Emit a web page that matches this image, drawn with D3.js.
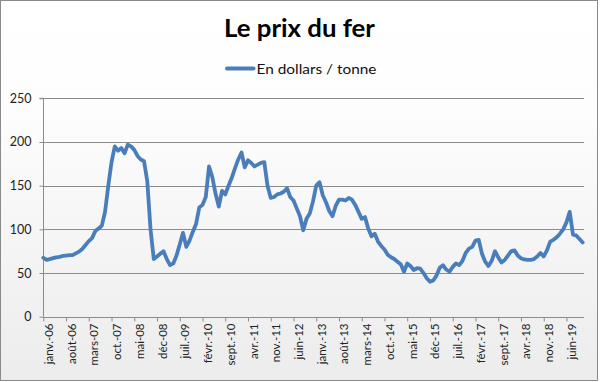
<!DOCTYPE html>
<html><head><meta charset="utf-8">
<script src="https://cdn.jsdelivr.net/npm/d3@7"></script>
<style>html,body{margin:0;padding:0;background:#fff;}svg{display:block;}</style>
</head><body>
<script>
// Monthly iron ore price, Jan 2006 .. Nov 2019 (USD / tonne)
const values = [
 67.5,65,66,67,68,68.5,69.5,70,70.5,70.5,72.5,74.5,
 77.5,82,86.5,90,98,101,104,120,150,177,195,190,
 193,187,197,195,191,184,180,178,155,100,66,69,
 72,75,66,59,61,70,83,96,80,87,97,106,
 125,128,137,172,160,141,126,144,140,150,159,170,
 180,188,171,179,176,172,174,176,177,150,136,137,
 140,141,143,147,137,133,124,115,99,112,118,132,
 150,154,139,131,121,115,127,134,134,133,136,134,
 128,120,112,114,101,92,95,86,81,77,71,68,
 66,63,60,51.5,61,58,53.5,55.5,55,50,44,40,
 41.5,47,56,59,54,51.5,57,61,59,64,73,78,
 80,87,88,72,63,58,64,75,68,62,65,70,
 75,76,70,67,65.5,65,65,66,69,73,69,76,
 86,88,91,95,100,108,120,94,93,89,85
];
const tickLabels = ["janv.-06","août-06","mars-07","oct.-07","mai-08","déc-08","juil.-09","févr.-10",
 "sept.-10","avr.-11","nov.-11","juin-12","janv.-13","août-13","mars-14","oct.-14","mai-15",
 "déc-15","juil.-16","févr.-17","sept.-17","avr.-18","nov.-18","juin-19"];
const tickStep = 7;
const yTicks = [0,50,100,150,200,250];
const title = "Le prix du fer";
const seriesName = "En dollars / tonne";

const W = 600, H = 382;
const svg = d3.select("body").append("svg").attr("width", W).attr("height", H);
const defs = svg.append("defs");
const grad = defs.append("linearGradient").attr("id","bg").attr("x1",0).attr("y1",0).attr("x2",0).attr("y2",1);
grad.append("stop").attr("offset","0%").attr("stop-color","#ffffff");
grad.append("stop").attr("offset","30%").attr("stop-color","#fdfdfd");
grad.append("stop").attr("offset","100%").attr("stop-color","#ececec");

svg.append("rect").attr("x",0.5).attr("y",0.5).attr("width",597).attr("height",380)
  .attr("fill","url(#bg)").attr("stroke","#8a8a8a").attr("stroke-width",1);

const x = d3.scaleLinear().domain([0, values.length - 1]).range([43.3, 582.7]);
const y = d3.scaleLinear().domain([0, 250]).range([316.7, 98.3]);
const xLeft = 43.3, xRight = 584;

// gridlines
svg.append("g").selectAll("line").data(yTicks.filter(d => d > 0)).join("line")
  .attr("x1", xLeft).attr("x2", xRight)
  .attr("y1", d => Math.round(y(d)) + 0.5).attr("y2", d => Math.round(y(d)) + 0.5)
  .attr("stroke", "#8c8c8c").attr("stroke-width", 1);

// y axis
const yAxis = d3.axisLeft(y).tickValues(yTicks).tickSize(4).tickPadding(8);
const gy = svg.append("g").attr("transform", `translate(${Math.round(xLeft)+0.5},0)`).call(yAxis);
gy.select(".domain").attr("stroke", "#8c8c8c").attr("d", `M-4,${y(250)}H0V${y(0)}`);
gy.selectAll(".tick line").attr("stroke", "#8c8c8c");
gy.selectAll(".tick text").attr("font-family", "Lato, 'Open Sans', sans-serif").attr("font-size", 12.5).attr("fill", "#222");

// x axis
const tickIdx = tickLabels.map((_, i) => i * tickStep);
const xAxis = d3.axisBottom(x).tickValues(tickIdx).tickSize(4).tickFormat((d, i) => tickLabels[i]);
const gx = svg.append("g").attr("transform", `translate(0,${Math.round(y(0))+0.5})`).call(xAxis);
gx.select(".domain").attr("stroke", "#8c8c8c").attr("d", `M${xLeft},0H${xRight}`);
gx.selectAll(".tick line").attr("stroke", "#8c8c8c");
gx.selectAll(".tick text")
  .attr("font-family", "Lato, 'Open Sans', sans-serif").attr("font-size", 11.5).attr("fill", "#222")
  .attr("text-anchor", "end").attr("dy", null).attr("y", 0)
  .attr("transform", "translate(9,6) rotate(-90)");

// line
const line = d3.line().x((d, i) => x(i)).y(d => y(d)).curve(d3.curveLinear);
svg.append("path").datum(values).attr("d", line)
  .attr("fill", "none").attr("stroke", "#4a7ebb").attr("stroke-width", 3.8)
  .attr("stroke-linejoin", "round").attr("stroke-linecap", "round");

// title
svg.append("text").attr("x", 299.5).attr("y", 36.5).attr("text-anchor", "middle")
  .attr("font-family", "Lato, 'Open Sans', sans-serif").attr("font-weight", "bold")
  .attr("font-size", 24).attr("fill", "#000")
  .attr("textLength", 151).attr("lengthAdjust", "spacingAndGlyphs")
  .text(title);

// legend
svg.append("line").attr("x1", 227).attr("x2", 253.5).attr("y1", 68.5).attr("y2", 68.5)
  .attr("stroke", "#4a7ebb").attr("stroke-width", 4).attr("stroke-linecap", "round");
svg.append("text").attr("x", 256.5).attr("y", 73.5)
  .attr("font-family", "Lato, 'Open Sans', sans-serif").attr("font-size", 14).attr("fill", "#111")
  .attr("textLength", 120).attr("lengthAdjust", "spacingAndGlyphs")
  .text(seriesName);
</script>
</body></html>
